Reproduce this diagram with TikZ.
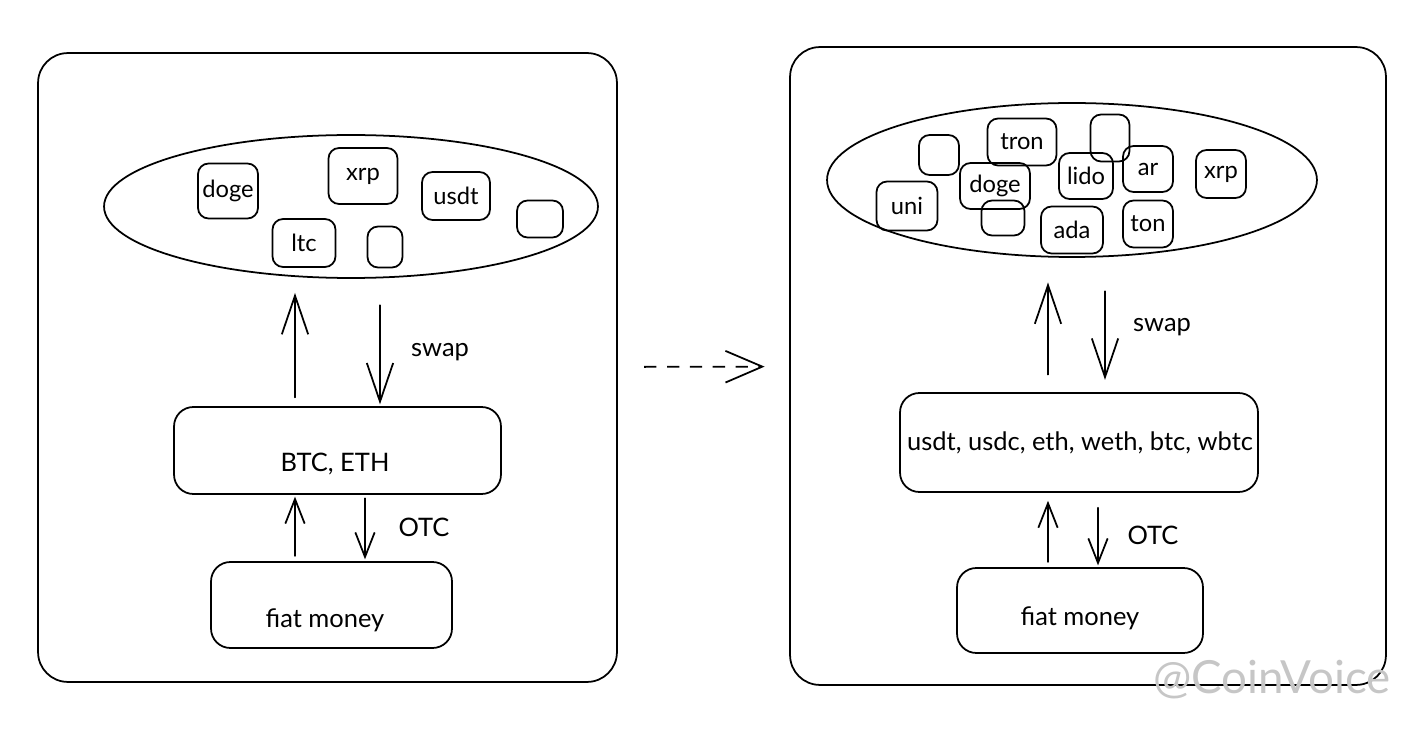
\documentclass[tikz,border=0pt]{standalone}
\usepackage{fontspec}
\setmainfont{Lato}
\usetikzlibrary{arrows.meta,shapes.geometric,calc}

\tikzset{
  panel/.style={draw,rounded corners=17pt,line width=1pt,inner sep=0pt},
  pool/.style={draw,ellipse,line width=1pt,inner sep=0pt},
  coin/.style={draw,rounded corners=6pt,line width=1pt,inner sep=0pt,font=\fontsize{13.5}{15}\selectfont},
  base/.style={draw,rounded corners=11pt,line width=1pt,inner sep=0pt},
  txt/.style={font=\fontsize{14.5}{16}\selectfont},
  bigarr/.style={line width=1pt,line cap=round,-{Straight Barb[length=22pt,width=15pt,line width=1pt]}},
  smallarr/.style={line width=1pt,line cap=round,-{Straight Barb[length=14pt,width=11pt,line width=1pt]}}
}

\begin{document}
\begin{tikzpicture}[x=0.02cm,y=-0.02cm]
\useasboundingbox (0,0) rectangle (1420,729);

% left panel
\node(leftPanel) [panel,minimum width=11.58cm,minimum height=12.58cm] at (327.5,367.5) {};
\node(poolL) [pool,minimum width=9.88cm,minimum height=2.86cm] at (351,206.5) {};
\node(dogeL) [coin,minimum width=1.2cm,minimum height=1.1cm] at (228,191) {doge};
\node(xrpL) [coin,minimum width=1.38cm,minimum height=1.12cm] at (363,176) {xrp};
\node(usdtL) [coin,minimum width=1.36cm,minimum height=0.96cm] at (456,196) {usdt};
\node(emptyLa) [coin,minimum width=0.92cm,minimum height=0.74cm] at (540,219) {};
\node(ltcL) [coin,minimum width=1.26cm,minimum height=0.96cm] at (304,243) {ltc};
\node(emptyLb) [coin,minimum width=0.7cm,minimum height=0.82cm] at (385,247) {};

\node(baseL) [base,minimum width=6.54cm,minimum height=1.74cm] at (337.5,450.5) {};
\node(baseLtext) [txt] at (335,464) {BTC, ETH};
\node(fiatL) [base,minimum width=4.82cm,minimum height=1.72cm] at (331.5,605) {};
\node(fiatLtext) [txt] at (325,620) {fiat money};

\coordinate (upL) at (295,0);
\coordinate (downL) at (380,0);
\coordinate (otcDownL) at (365,0);
\draw[bigarr,shorten <=5pt,shorten >=8pt] (baseL.north -| upL) -- (poolL.south -| upL);
\draw[bigarr,shorten <=15pt,shorten >=1pt] (poolL.south -| downL) -- (baseL.north -| downL);
\node(swapL) [txt] at (440,352) {swap};
\draw[smallarr,shorten <=3pt,shorten >=1pt] (fiatL.north -| upL) -- (baseL.south -| upL);
\draw[smallarr,shorten <=2pt,shorten >=1pt] (baseL.south -| otcDownL) -- (fiatL.north -| otcDownL);
\node(otcL) [txt] at (424,527) {OTC};

% right panel
\node(rightPanel) [panel,minimum width=11.92cm,minimum height=12.76cm] at (1088,366) {};
\node(poolR) [pool,minimum width=9.8cm,minimum height=3.08cm] at (1072,180) {};
\node(emptyRa) [coin,minimum width=0.8cm,minimum height=0.8cm] at (939,155) {};
\node(tronR) [coin,minimum width=1.38cm,minimum height=0.94cm] at (1022,142) {tron};
\node(emptyRb) [coin,minimum width=0.78cm,minimum height=0.94cm] at (1110,138) {};
\node(dogeR) [coin,minimum width=1.4cm,minimum height=0.92cm] at (995,186) {doge};
\node(lidoR) [coin,minimum width=1.08cm,minimum height=0.92cm] at (1086,176) {lido};
\node(arR) [coin,minimum width=1.0cm,minimum height=0.92cm] at (1148,169) {ar};
\node(xrpR) [coin,minimum width=1.0cm,minimum height=0.96cm] at (1221,174) {xrp};
\node(uniR) [coin,minimum width=1.22cm,minimum height=0.98cm] at (907,206) {uni};
\node(emptyRc) [coin,minimum width=0.86cm,minimum height=0.7cm] at (1003,218) {};
\node(adaR) [coin,minimum width=1.24cm,minimum height=0.94cm] at (1072,230) {ada};
\node(tonR) [coin,minimum width=1.0cm,minimum height=0.94cm] at (1148,224) {ton};

\node(baseR) [base,minimum width=7.16cm,minimum height=1.98cm] at (1079,442.5) {};
\node(baseRtext) [txt] at (1080,443) {usdt, usdc, eth, weth, btc, wbtc};
\node(fiatR) [base,minimum width=4.92cm,minimum height=1.7cm] at (1080,610.5) {};
\node(fiatRtext) [txt] at (1080,618) {fiat money};

\coordinate (upR) at (1048,0);
\coordinate (downR) at (1105,0);
\coordinate (otcDownR) at (1098,0);
\draw[bigarr,shorten <=10pt,shorten >=14pt] (baseR.north -| upR) -- (poolR.south -| upR);
\draw[bigarr,shorten <=19pt,shorten >=7pt] (poolR.south -| downR) -- (baseR.north -| downR);
\node(swapR) [txt] at (1162,327) {swap};
\draw[smallarr,shorten <=3pt,shorten >=4.5pt] (fiatR.north -| upR) -- (baseR.south -| upR);
\draw[smallarr,shorten <=8.5pt,shorten >=1pt] (baseR.south -| otcDownR) -- (fiatR.north -| otcDownR);
\node(otcR) [txt] at (1153,535) {OTC};

% step between the two panels
\draw[line width=1pt,dashed,dash pattern=on 7pt off 6pt,-{Straight Barb[length=21pt,width=18pt,line width=1pt]},shorten <=15pt,shorten >=14pt] (leftPanel) -- (rightPanel);

\node(mark) [text=gray!45,font=\fontsize{26}{28}\selectfont] at (1272,680) {@CoinVoice};
\end{tikzpicture}
\end{document}
